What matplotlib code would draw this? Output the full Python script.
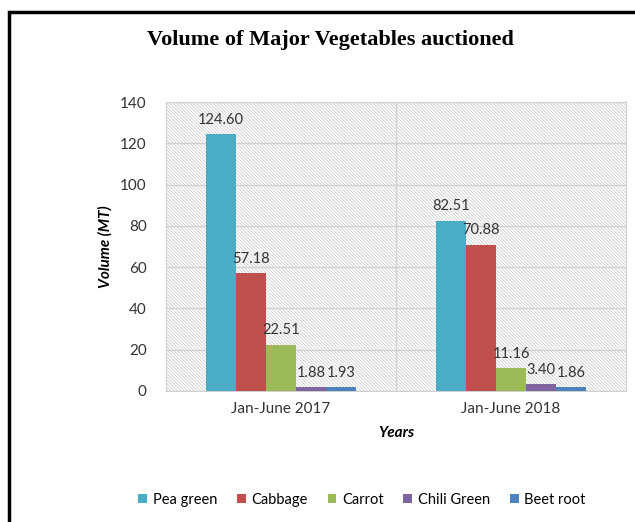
import numpy as np
import matplotlib.pyplot as plt
from matplotlib.patches import Rectangle

years = ["Jan-June 2017", "Jan-June 2018"]
vegetables = ["Pea green", "Cabbage", "Carrot", "Chili Green", "Beet root"]
pea_green = [124.60, 82.51]
cabbage = [57.18, 70.88]
carrot = [22.51, 11.16]
chili_green = [1.88, 3.40]
beet_root = [1.93, 1.86]
colors = ["#4BACC6", "#C0504D", "#9BBB59", "#8064A2", "#4F81BD"]

series = [pea_green, cabbage, carrot, chili_green, beet_root]

plt.rcParams['font.family'] = ['Lato', 'DejaVu Sans']
plt.rcParams['hatch.linewidth'] = 0.5

fig = plt.figure(figsize=(6.35, 5.22), dpi=100)
# outer black frame (left and top visible, runs off right/bottom)
fig.add_artist(Rectangle((9 / 635, -0.05), 1.2, 1 - 12 / 522 + 0.05,
                         transform=fig.transFigure, fill=False,
                         edgecolor='black', linewidth=2.5))

ax = fig.add_axes([166 / 635, 1 - 391 / 522, 460 / 635, 289 / 522])
ax.add_patch(Rectangle((0, 0), 1, 1, transform=ax.transAxes, facecolor='white',
                       edgecolor='#c8c8c8', hatch='\\' * 10, linewidth=0, zorder=0))

x = np.arange(len(years))
width = 0.13
for i, (name, vals) in enumerate(zip(vegetables, series)):
    pos = x + (i - 2) * width
    bars = ax.bar(pos, vals, width, color=colors[i], label=name, zorder=3)
    for b, v in zip(bars, vals):
        ax.text(b.get_x() + b.get_width() / 2, v + 3.5, "%.2f" % v,
                ha='center', va='bottom', fontsize=10.5, color='#333333', zorder=4)

ax.set_xlim(-0.5, 1.5)
ax.set_ylim(0, 140)
ax.set_yticks(range(0, 141, 20))
ax.set_xticks(x)
ax.set_xticklabels(years)
ax.yaxis.grid(True, color='#d0d0d0', linewidth=1, zorder=1)
ax.axvline(0.5, color='#d0d0d0', linewidth=1, zorder=1)
ax.set_axisbelow(True)
for s in ax.spines.values():
    s.set_color('#d0d0d0')
ax.tick_params(length=0, labelsize=11, colors='#333333', pad=8)
ax.tick_params(axis='y', pad=14)

ax.set_ylabel("Volume (MT)", fontsize=11, fontweight='bold', style='italic', labelpad=5)
ax.set_xlabel("Years", fontsize=11, fontweight='bold', style='italic', labelpad=7)

fig.text(330 / 635, 1 - 40 / 522, "Volume of Major Vegetables auctioned",
         ha='center', va='center', fontsize=16, fontweight='bold',
         family='Liberation Serif')

ax.legend(loc='center', bbox_to_anchor=(362 / 635, 1 - 500 / 522),
          bbox_transform=fig.transFigure, ncol=5, frameon=False,
          fontsize=10.5, handlelength=0.6, handleheight=0.6,
          handletextpad=0.4, columnspacing=1.35)

fig.savefig("out.png", dpi=100)
